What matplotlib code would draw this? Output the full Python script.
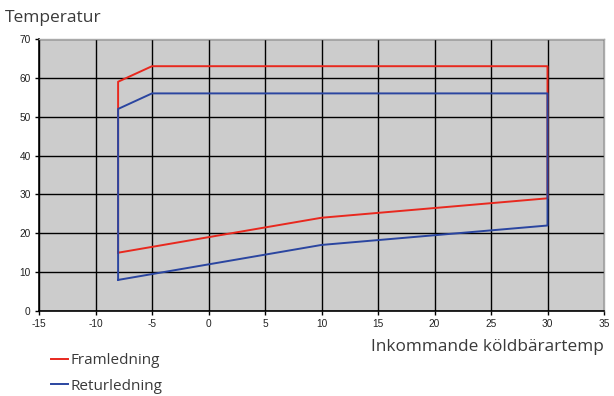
import matplotlib
matplotlib.use('Agg')
import matplotlib.pyplot as plt
from matplotlib.lines import Line2D

plt.rcParams['axes.unicode_minus'] = False

# data
fram_x = [-8, 10, 30, 30, -5, -8, -8]
fram_y = [15, 24, 29, 63, 63, 59, 15]
retur_x = [-8, 10, 30, 30, -5, -8, -8]
retur_y = [8, 17, 22, 56, 56, 52, 8]
x_ticks = list(range(-15, 40, 5))
y_ticks = list(range(0, 80, 10))

fig = plt.figure(figsize=(6.14, 3.96), dpi=100)
ax = fig.add_axes([39/614, 1-311/396, (604-39)/614, (311-39)/396])
ax.set_facecolor('#cccccc')

ax.plot(fram_x, fram_y, color='#e8281e', lw=1.4, zorder=3)
ax.plot(retur_x, retur_y, color='#2a45a0', lw=1.4, zorder=3)

ax.set_xlim(-15, 35)
ax.set_ylim(0, 70)
ax.set_xticks(x_ticks)
ax.set_yticks(y_ticks)
ax.grid(True, color='black', lw=1.0, zorder=1)
ax.set_axisbelow(True)
for s in ['top', 'right']:
    ax.spines[s].set_color('#aaaaaa')
    ax.spines[s].set_linewidth(1.0)
for s in ['bottom', 'left']:
    ax.spines[s].set_color('black')
    ax.spines[s].set_linewidth(1.2)
ax.tick_params(axis='both', direction='out', length=3, width=1, labelsize=7.3,
               colors='black', pad=3)
for lab in ax.get_xticklabels() + ax.get_yticklabels():
    lab.set_family('Liberation Sans')
    lab.set_color('#222222')

fig.text(5/614, 1-18/396, 'Temperatur', family='Open Sans', fontsize=12.5,
         color='#3a3a3a', va='center', ha='left')
fig.text(604/614, 1-347/396, 'Inkommande köldbärartemp', family='Open Sans',
         fontsize=12.4, color='#3a3a3a', va='center', ha='right')

handles = [Line2D([], [], color='#e8281e', lw=1.4),
           Line2D([], [], color='#2a45a0', lw=1.4)]
leg = fig.legend(handles, ['Framledning', 'Returledning'], loc='upper left',
                 bbox_to_anchor=(51/614, 1-353/396), frameon=False,
                 borderpad=0, borderaxespad=0,
                 prop={'family': 'Open Sans', 'size': 11}, handlelength=1.1,
                 handletextpad=0.2, labelspacing=0.7, labelcolor='#3a3a3a')

plt.savefig('out.png', dpi=100)
